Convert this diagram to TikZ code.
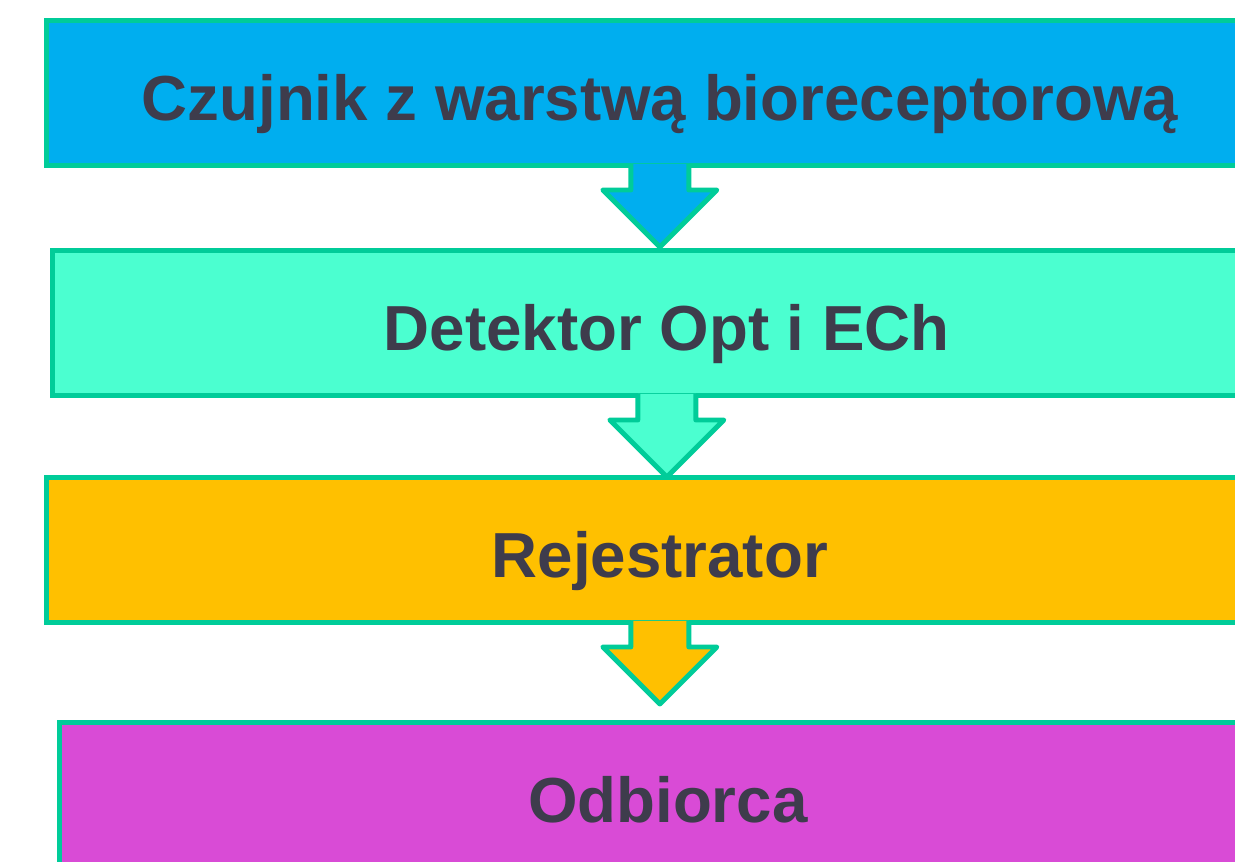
\documentclass[tikz,border=0pt]{standalone}
\usepackage{fontspec}
\setmainfont{Liberation Sans}
\usetikzlibrary{calc}
\definecolor{edge}{HTML}{00CC99}
\definecolor{ink}{HTML}{3E3C4C}
\definecolor{sky}{HTML}{00AEEF}
\definecolor{aqua}{HTML}{4BFFD0}
\definecolor{amber}{HTML}{FFC000}
\definecolor{orchid}{HTML}{D94BD6}

\begin{document}
\begin{tikzpicture}[x=.01cm,y=-.01cm,
 stage/.style={draw=edge,line width=1.4pt,anchor=north west,inner sep=0pt,
  minimum width=12.26cm,minimum height=1.45cm,text=ink,
  text height=15.6pt,text depth=0pt,
  font=\bfseries\fontsize{18.1}{22}\selectfont},
 pointer/.style={draw=edge,line width=1.4pt,line join=round}]
\clip (0,0) rectangle (1235,862);
\node[stage,fill=sky] (czujnik) at (44,18) {Czujnik z warstwą bioreceptorową};
\node[stage,fill=aqua,minimum width=12.28cm] (detektor) at (50,248) {Detektor Opt i ECh};
\node[stage,fill=amber] (rejestrator) at (44,475) {Rejestrator};
\node[stage,fill=orchid,minimum width=12.16cm] (odbiorca) at (57,720) {Odbiorca};
% Block arrows hang from each box; the open top lets the fill cover the border.
\foreach \a/\col in {czujnik/sky,detektor/aqua,rejestrator/amber}
 \draw[pointer,fill=\col] ($(\a.south)+(-29,-4)$) -- ++(0,26) -- ++(-28,0)
  -- ($(\a.south)+(0,79)$) -- ($(\a.south)+(57,22)$) -- ++(-28,0) -- ++(0,-26);
\end{tikzpicture}
\end{document}
